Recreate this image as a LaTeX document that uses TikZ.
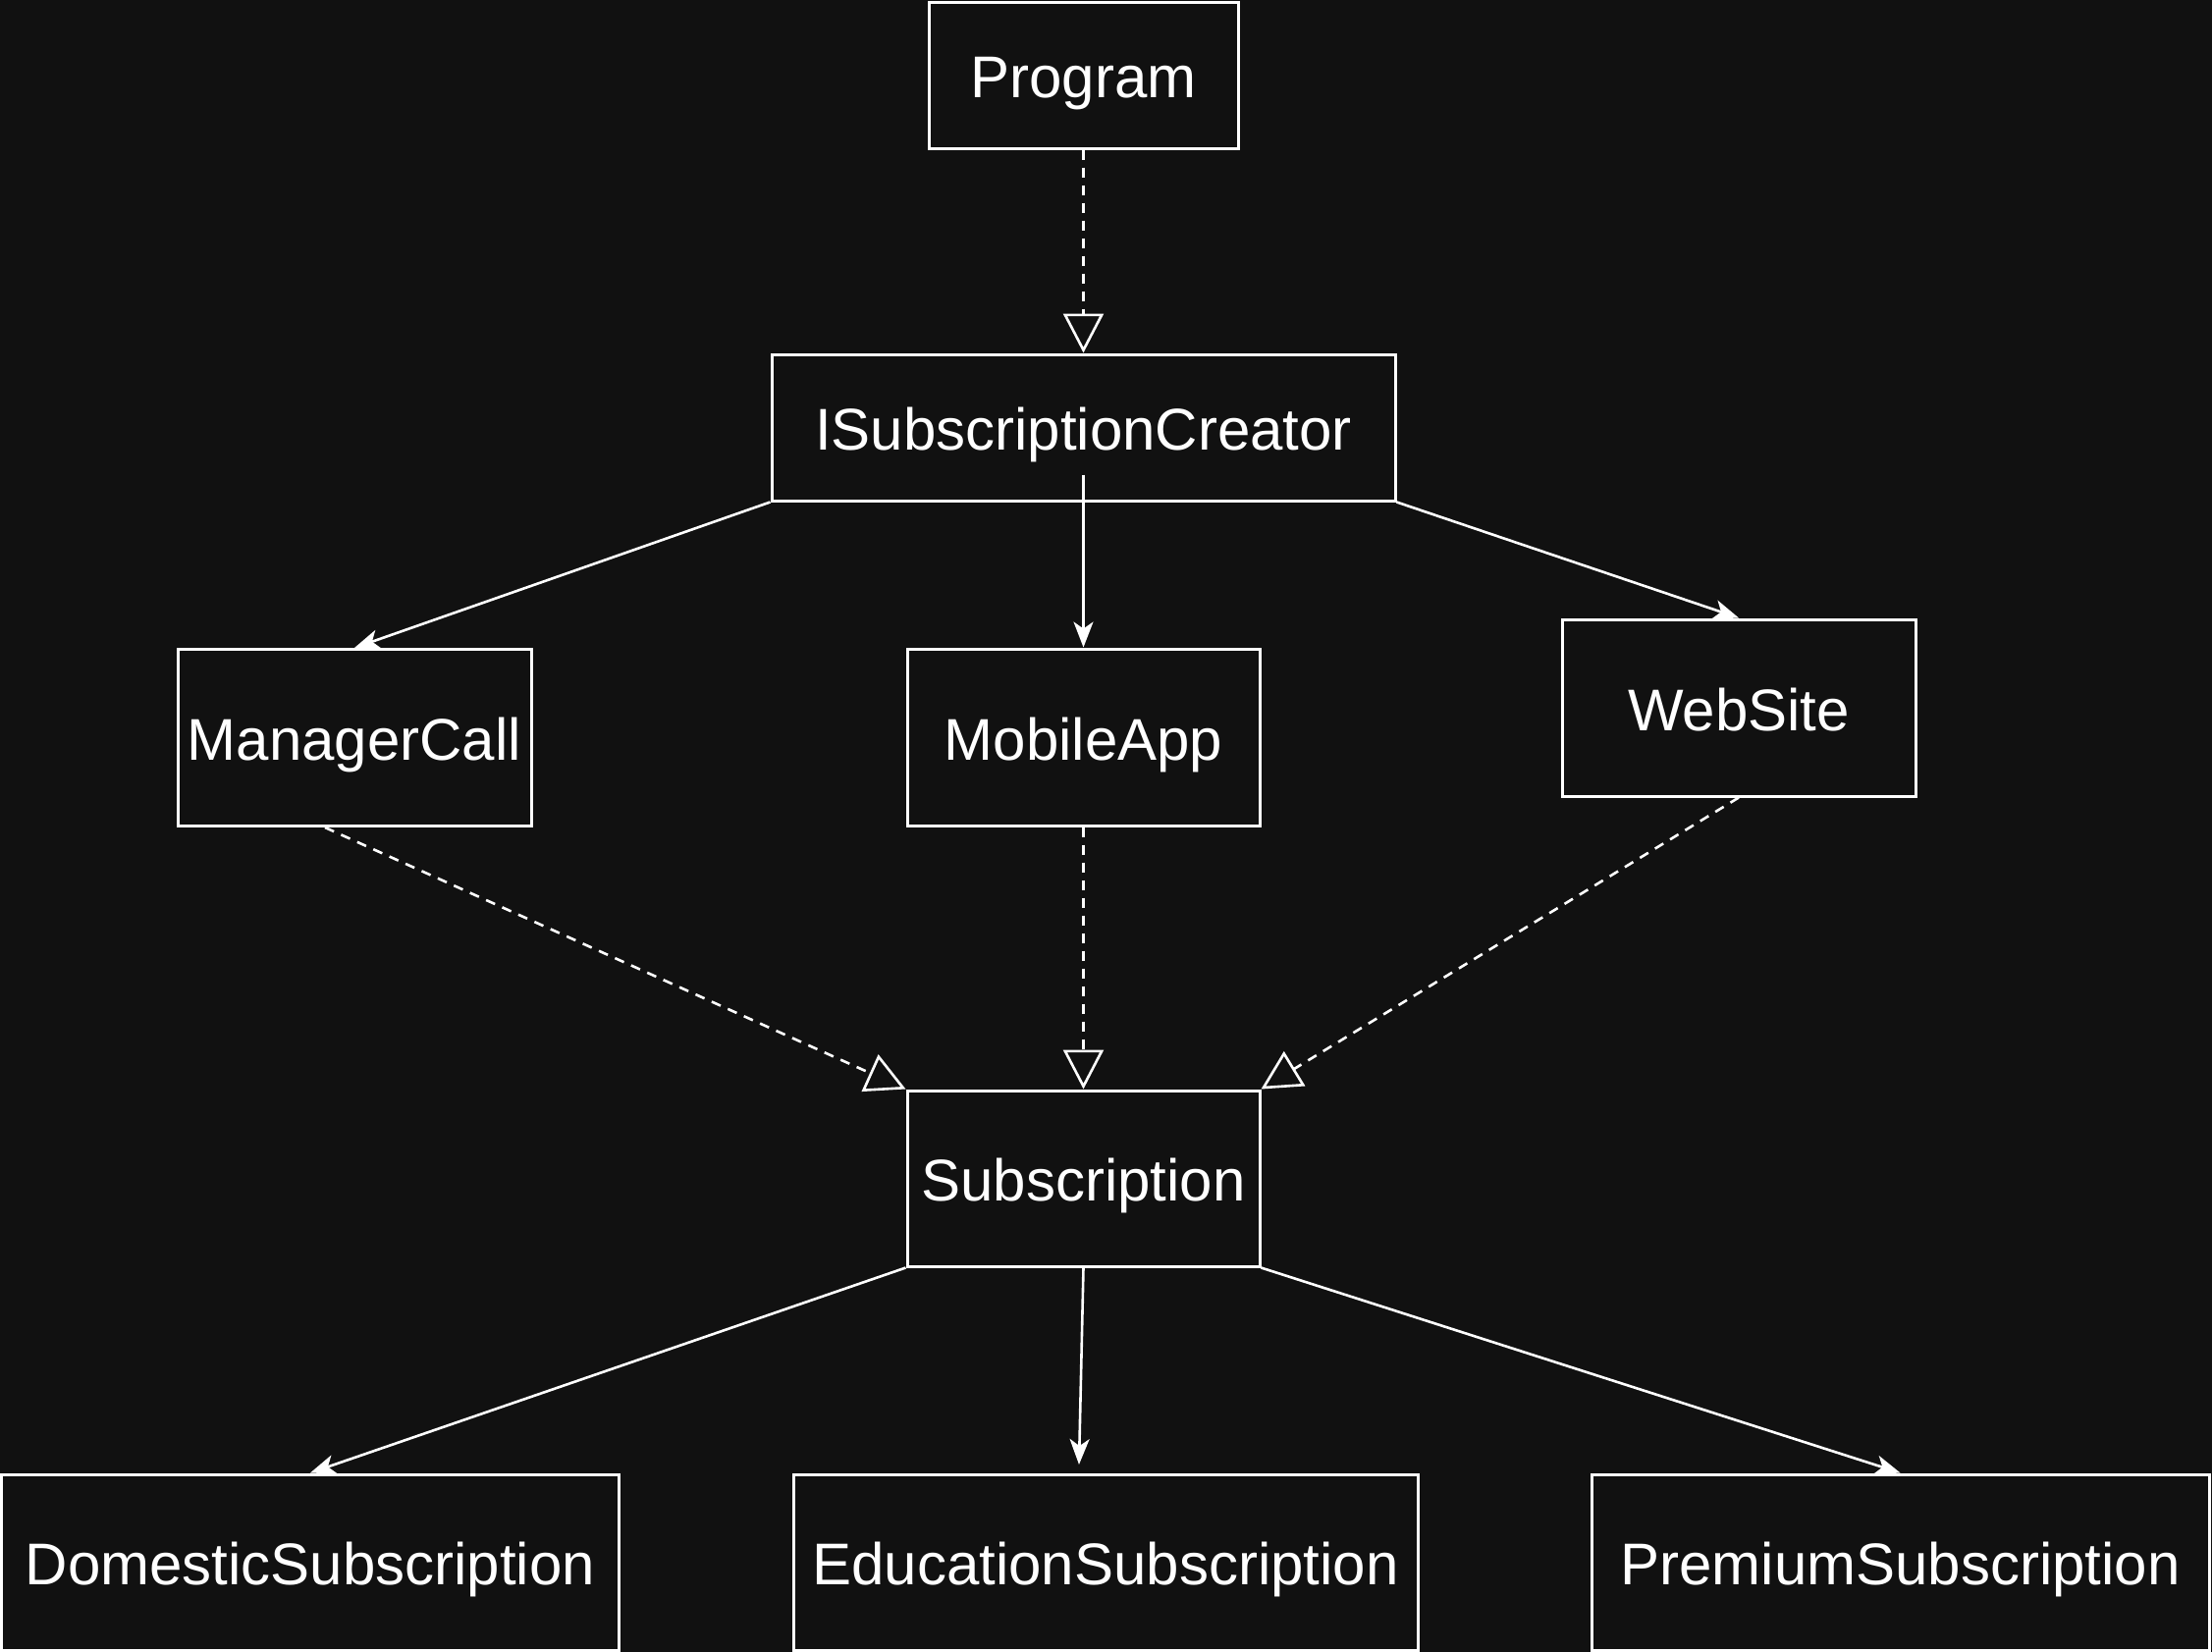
\documentclass[tikz,border=0pt]{standalone}
\usepackage{fontspec}
\setmainfont{Liberation Sans}
\usetikzlibrary{arrows.meta,calc}
\definecolor{bg}{HTML}{111111}
\begin{document}
\begin{tikzpicture}[x=1pt,y=-1pt,
  box/.style={draw=white,line width=3pt,fill=bg,text=white,inner sep=0pt,
    text height=46pt,text depth=0pt,
    font=\fontsize{60}{72}\selectfont},
  assoc/.style={draw=white,line width=2.6pt,-{Stealth[length=26pt,width=20pt,inset=7pt]}},
  realize/.style={draw=white,line width=2.6pt,dash pattern=on 10pt off 8pt,
    -{Triangle[open,length=40pt,width=41pt,line width=2.6pt]}}]
\fill[bg] (0,0) rectangle (2253,1683);
\useasboundingbox (0,0) rectangle (2253,1683);

\node[box,minimum width=315pt,minimum height=148pt] (prog) at (1103.5,77) {Program};
\node[box,minimum width=635pt,minimum height=149pt] (isc) at (1103.5,435.5) {ISubscriptionCreator};
\node[box,minimum width=360pt,minimum height=180pt] (mc) at (361,751.5) {ManagerCall};
\node[box,minimum width=359pt,minimum height=180pt] (ma) at (1103.5,751) {MobileApp};
\node[box,minimum width=360pt,minimum height=180pt] (ws) at (1771,721) {WebSite};
\node[box,minimum width=359pt,minimum height=179pt] (sub) at (1103.5,1200.5) {Subscription};
\node[box,minimum width=629pt,minimum height=179pt] (dom) at (316,1591.5) {DomesticSubscription};
\node[box,minimum width=636pt,minimum height=179pt] (edu) at (1126,1591.5) {EducationSubscription};
\node[box,minimum width=629pt,minimum height=179pt] (prem) at (1935.5,1591.5) {PremiumSubscription};

\coordinate (iscin) at ($(isc.south)+(0,-28)$);
\coordinate (mcout) at ($(mc.south)+(-30,0)$);
\coordinate (edtip) at (1099,1492);

\draw[realize] (prog.south) -- (isc.north);
\draw[assoc] (isc.south west) -- (mc.north);
\draw[assoc] (iscin) -- (ma.north);
\draw[assoc] (isc.south east) -- (ws.north);
\draw[realize] (mcout) -- (sub.north west);
\draw[realize] (ma.south) -- (sub.north);
\draw[realize] (ws.south) -- (sub.north east);
\draw[assoc] (sub.south west) -- (dom.north);
\draw[assoc] (sub.south) -- (edtip);
\draw[assoc] (sub.south east) -- (prem.north);
\end{tikzpicture}
\end{document}
